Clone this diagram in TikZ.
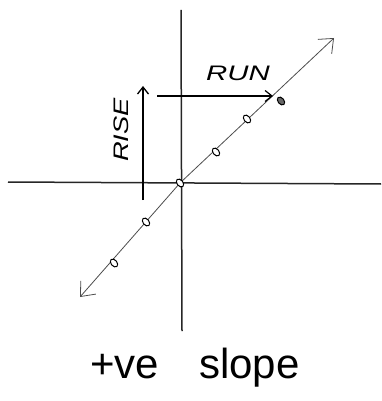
\documentclass[tikz,border=0pt]{standalone}
\usepackage{fontspec}
\setmainfont{Liberation Sans}
\usetikzlibrary{arrows.meta,shapes.geometric}
\begin{document}
\begin{tikzpicture}[x=1pt,y=-1pt,
  axis/.style={line width=1.5pt,black!85},
  slopeline/.style={line width=0.8pt,black!70},
  pt/.style={draw,line width=1pt,ellipse,inner sep=0pt,minimum width=6pt,minimum height=9pt,rotate=40},
  barb/.style={-{Straight Barb[length=7pt,width=11pt]}},
  bigbarb/.style={-{Straight Barb[length=12pt,width=20pt]}},
  lab/.style={font=\itshape\fontsize{21}{21}\selectfont,inner sep=0pt}]
\useasboundingbox (0,0) rectangle (381,401);
% axes
\coordinate (ytop) at (181,10);
\coordinate (ybot) at (182,331);
\coordinate (xl) at (8,182);
\coordinate (xr) at (381,184);
\draw[axis] (ytop) -- (ybot);
\draw[axis] (xl) -- (xr);
% slope line
\coordinate (lo) at (80,297);
\coordinate (hi) at (334,38);
\coordinate (o) at (180,183);
\draw[slopeline,bigbarb] (o) -- (hi);
\draw[slopeline,bigbarb] (o) -- (lo);
% points
\node[pt,fill=white] (p0) at (180,183) {};
\node[pt,fill=white] (p1) at (216,152) {};
\node[pt,fill=white] (p2) at (247,119) {};
\node[pt,fill=black!60] (p3) at (281,101) {};
\node[pt,fill=white] (p4) at (146,222) {};
\node[pt,fill=white] (p5) at (114,263) {};
% rise and run
\coordinate (rb) at (143,200);
\coordinate (rt) at (143,86);
\coordinate (rs) at (157,96);
\coordinate (re) at (273,96);
\draw[line width=1.3pt,barb] (rb) -- (rt);
\draw[line width=1.2pt,barb] (rs) -- (re);
\node[lab,xscale=1.4] (run) at (238,73) {RUN};
\node[lab,rotate=90,xscale=1.3] (rise) at (121,130) {RISE};
% caption
\node[font=\fontsize{42}{42}\selectfont,inner sep=0pt,anchor=base] (cap) at (195,378) {+ve\hspace{40pt}slope};
\end{tikzpicture}
\end{document}
